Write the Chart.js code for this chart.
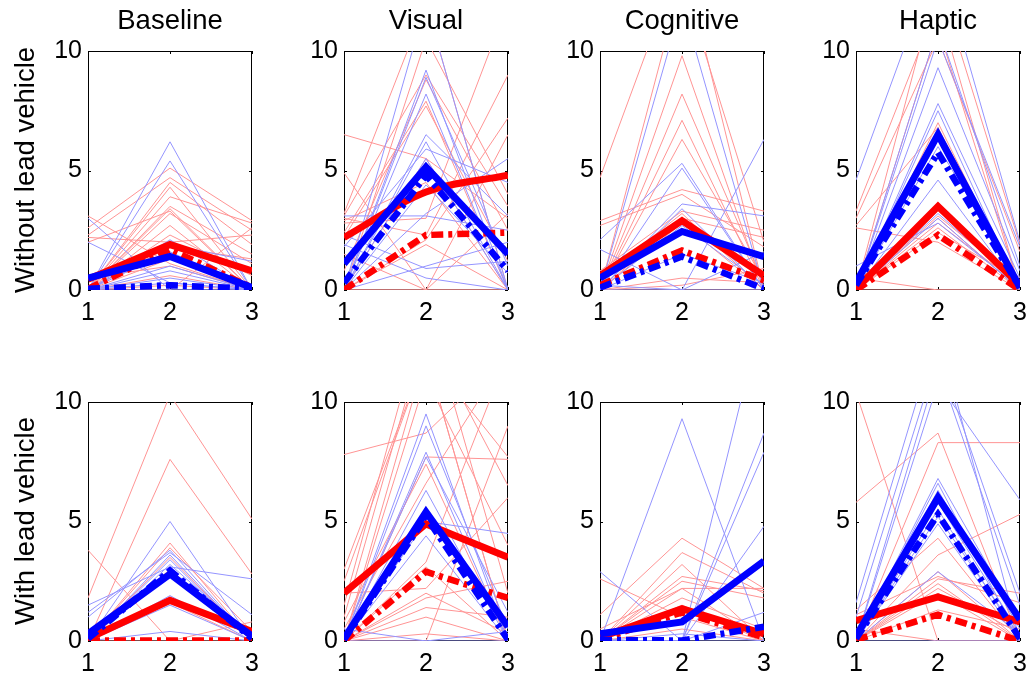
<!DOCTYPE html>
<html>
<head>
<meta charset="utf-8">
<script src="https://cdn.jsdelivr.net/npm/chart.js@4.4.1/dist/chart.umd.min.js"></script>
<style>
  html, body { margin: 0; padding: 0; background: #fff; }
  body { width: 1029px; height: 679px; position: relative; overflow: hidden; font-family: "Liberation Sans", Arial, sans-serif; }
  canvas { position: absolute; }
  .lbl { position: absolute; white-space: nowrap; font-size: 27.5px; line-height: 1; color: #000; }
</style>
</head>
<body>
<script>
// axes / labels
const xValues = [1, 2, 3];
const xTicks = [1, 2, 3];
const yTicks = [0, 5, 10];
const conditions = ['Baseline', 'Visual', 'Cognitive', 'Haptic'];
const rowLabels = ['Without lead vehicle', 'With lead vehicle'];

// ---- Without lead vehicle ----
const woBaselineRed = [
  [3.1, 1.1, 0.0], [2.6, 5.1, 2.9], [2.3, 4.7, 2.5], [2.2, 2.0, 2.3], [2.0, 3.3, 0.0],
  [0.0, 4.5, 1.9], [0.0, 4.3, 0.0], [0.0, 3.9, 2.8], [0.0, 3.5, 1.5], [0.0, 3.4, 0.0],
  [0.0, 3.2, 1.1], [0.0, 2.7, 0.0], [0.0, 2.3, 0.6], [0.0, 1.8, 1.3], [0.0, 1.3, 0.0],
  [0.5, 1.0, 0.0], [0.0, 0.6, 0.0], [0.0, 0.0, 2.6], [0.0, 0.2, 0.0]
];
const woBaselineBlue = [
  [0.0, 6.2, 0.0], [0.0, 5.4, 0.0], [3.0, 0.0, 0.0], [2.0, 0.3, 0.0], [0.0, 2.1, 0.0],
  [0.0, 1.9, 1.2], [0.0, 1.6, 0.0], [0.0, 1.0, 0.0], [0.0, 0.8, 0.0], [0.0, 0.5, 0.0],
  [0.0, 0.3, 0.0], [0.0, 0.0, 0.0]
];
const woBaselineRedSolid = [0.45, 1.9, 0.8];
const woBaselineRedDashDot = [0.05, 1.7, 0.1];
const woBaselineBlueSolid = [0.5, 1.4, 0.1];
const woBaselineBlueDashDot = [0.05, 0.2, 0.05];

const woVisualRed = [
  [6.5, 5.5, 3.0], [4.9, 0.0, 0.0], [3.2, 12.0, 0.0], [3.1, 9.0, 3.5], [3.0, 2.3, 9.0],
  [2.9, 4.5, 0.0], [2.8, 3.0, 12.0], [2.4, 7.9, 0.0], [2.2, 7.7, 1.2], [1.5, 0.0, 6.5],
  [0.8, 8.8, 2.5], [0.0, 10.5, 4.0], [0.0, 5.5, 0.0], [0.0, 2.1, 7.2], [0.0, 0.0, 3.2],
  [0.0, 0.0, 0.0], [0.0, 1.9, 0.0]
];
const woVisualBlue = [
  [0.0, 12.0, 0.0], [0.0, 9.2, 0.0], [0.0, 8.9, 1.0], [0.0, 8.2, 0.0], [0.0, 6.5, 3.1],
  [0.0, 6.2, 0.0], [1.8, 5.9, 4.5], [3.1, 3.1, 2.5], [2.3, 0.9, 1.2], [0.0, 1.0, 2.0],
  [1.9, 0.5, 0.0], [0.0, 3.2, 5.5], [0.0, 5.5, 0.0], [0.0, 4.4, 0.7]
];
const woVisualRedSolid = [2.2, 4.1, 4.8];
const woVisualRedDashDot = [0.0, 2.3, 2.4];
const woVisualBlueSolid = [1.1, 5.15, 1.5];
const woVisualBlueDashDot = [0.3, 4.8, 0.8];

const woCognitiveRed = [
  [4.7, 14.0, 0.0], [0.0, 9.8, 0.0], [0.0, 13.0, 2.0], [0.0, 8.2, 0.3], [0.0, 7.1, 0.0],
  [0.0, 6.3, 0.4], [2.9, 4.2, 3.3], [2.7, 4.0, 1.8], [0.8, 3.3, 2.5], [0.5, 3.2, 0.0],
  [0.0, 3.0, 2.2], [0.0, 2.8, 0.0], [0.0, 0.5, 0.3], [0.0, 0.0, 0.0], [0.0, 0.2, 0.9]
];
const woCognitiveBlue = [
  [0.0, 12.0, 0.0], [2.1, 5.3, 0.0], [1.7, 0.0, 6.3], [0.0, 5.1, 0.0], [0.0, 3.6, 3.1],
  [0.0, 3.4, 0.0], [0.0, 2.7, 0.2], [0.2, 0.0, 1.6], [0.0, 0.0, 0.0], [0.0, 1.5, 0.3]
];
const woCognitiveRedSolid = [0.6, 2.9, 0.6];
const woCognitiveRedDashDot = [0.2, 1.65, 0.4];
const woCognitiveBlueSolid = [0.5, 2.45, 1.4];
const woCognitiveBlueDashDot = [0.1, 1.4, 0.05];

const woHapticRed = [
  [3.3, 12.0, 0.0], [3.0, 10.5, 1.6], [0.0, 13.0, 1.9], [0.0, 11.0, 0.0], [2.7, 6.8, 0.0],
  [2.6, 2.0, 0.0], [0.0, 3.3, 0.5], [0.0, 3.1, 0.3], [0.0, 3.0, 0.0], [0.0, 2.8, 0.2],
  [0.0, 2.6, 0.0], [0.0, 2.4, 0.4], [0.5, 0.0, 0.0], [0.0, 0.0, 0.0], [0.0, 7.0, 0.0]
];
const woHapticBlue = [
  [4.6, 14.0, 2.0], [0.0, 11.0, 1.0], [0.0, 10.5, 1.8], [0.0, 9.3, 0.8], [0.0, 7.8, 0.5],
  [0.0, 7.5, 0.0], [0.0, 6.0, 0.3], [0.0, 4.6, 0.0], [0.0, 3.2, 0.2], [0.0, 3.0, 0.0],
  [1.0, 2.8, 0.1]
];
const woHapticRedSolid = [0.05, 3.5, 0.2];
const woHapticRedDashDot = [0.0, 2.3, 0.0];
const woHapticBlueSolid = [0.3, 6.5, 0.1];
const woHapticBlueDashDot = [0.2, 5.75, 0.1];

// ---- With lead vehicle ----
const wBaselineRed = [
  [1.8, 10.3, 5.1], [0.0, 7.6, 2.8], [3.8, 0.0, 0.0], [0.0, 4.1, 0.0], [0.0, 3.9, 0.4],
  [0.0, 3.5, 0.0], [0.0, 3.0, 0.0], [0.0, 1.6, 0.0], [0.0, 0.0, 0.8]
];
const wBaselineBlue = [
  [1.5, 3.1, 2.6], [1.2, 3.7, 1.1], [1.0, 3.8, 0.0], [0.0, 5.0, 0.0], [0.0, 3.6, 0.0],
  [0.0, 3.4, 0.0], [0.0, 1.9, 0.0], [0.0, 1.5, 0.0], [0.0, 0.4, 0.0], [0.0, 3.2, 0.2]
];
const wBaselineRedSolid = [0.1, 1.7, 0.4];
const wBaselineRedDashDot = [0.02, 0.02, 0.02];
const wBaselineBlueSolid = [0.3, 2.8, 0.2];
const wBaselineBlueDashDot = [0.1, 2.95, 0.1];

const wVisualRed = [
  [7.8, 8.7, 12.0], [3.0, 12.0, 0.0], [2.5, 12.0, 7.7], [1.5, 14.0, 2.0], [1.0, 13.0, 6.5],
  [0.8, 7.4, 0.0], [0.5, 6.6, 12.0], [0.0, 7.7, 7.6], [0.0, 3.3, 12.0], [0.0, 3.1, 0.0],
  [0.0, 2.0, 0.3], [0.0, 1.8, 2.5], [0.0, 1.0, 0.0], [0.0, 0.0, 9.0], [0.0, 12.0, 0.0],
  [0.0, 1.4, 1.0], [0.0, 0.3, 0.0], [2.0, 2.2, 6.0], [0.0, 11.0, 4.0]
];
const wVisualBlue = [
  [0.0, 9.5, 0.0], [0.0, 9.0, 0.5], [0.0, 7.9, 0.0], [0.0, 7.7, 1.2], [0.0, 6.3, 0.0],
  [0.0, 5.0, 4.5], [0.0, 4.4, 0.0], [0.5, 0.0, 0.4], [0.0, 0.0, 0.0]
];
const wVisualRedSolid = [2.0, 4.9, 3.5];
const wVisualRedDashDot = [0.0, 2.9, 1.8];
const wVisualBlueSolid = [0.1, 5.4, 0.6];
const wVisualBlueDashDot = [0.05, 5.2, 0.05];

const wCognitiveRed = [
  [2.6, 1.0, 0.0], [1.1, 4.3, 2.2], [0.0, 3.7, 2.0], [0.0, 3.2, 0.0], [0.0, 2.7, 2.1],
  [0.0, 2.5, 1.8], [0.0, 2.2, 0.0], [0.0, 1.8, 0.5], [0.0, 1.5, 0.0], [0.5, 2.2, 2.2],
  [0.0, 0.5, 0.0]
];
const wCognitiveBlue = [
  [0.0, 9.3, 0.0], [2.9, 0.0, 14.0], [0.0, 0.0, 8.7], [0.0, 0.0, 7.9], [0.0, 0.0, 4.8],
  [0.0, 0.0, 1.2], [0.0, 0.3, 0.0], [0.0, 0.0, 0.0]
];
const wCognitiveRedSolid = [0.15, 1.35, 0.3];
const wCognitiveRedDashDot = [0.05, 1.2, 0.15];
const wCognitiveBlueSolid = [0.3, 0.8, 3.35];
const wCognitiveBlueDashDot = [0.05, 0.02, 0.6];

const wHapticRed = [
  [10.4, 0.0, 0.0], [5.8, 8.7, 0.0], [0.0, 8.3, 8.3], [0.0, 3.6, 5.3], [1.3, 4.3, 0.0],
  [0.0, 2.9, 0.0], [0.0, 2.6, 2.0], [0.0, 2.4, 0.0], [0.0, 2.2, 0.3], [0.0, 2.0, 0.0],
  [0.0, 1.3, 0.5], [0.5, 0.0, 0.0], [1.1, 2.7, 1.6]
];
const wHapticBlue = [
  [1.6, 13.0, 0.0], [1.0, 12.0, 2.0], [0.0, 10.8, 5.9], [0.0, 11.5, 1.5], [0.0, 6.8, 0.8],
  [0.0, 6.6, 0.0], [0.0, 6.3, 0.5], [0.0, 5.8, 0.3], [0.0, 5.5, 0.0], [0.0, 5.2, 0.2],
  [0.0, 4.9, 0.0], [0.0, 2.9, 0.3], [0.0, 0.0, 0.0]
];
const wHapticRedSolid = [0.85, 1.85, 0.8];
const wHapticRedDashDot = [0.05, 1.1, 0.0];
const wHapticBlueSolid = [0.2, 6.0, 0.9];
const wHapticBlueDashDot = [0.1, 5.3, 0.1];

const panels = [
  { row: 0, col: 0, red: woBaselineRed, blue: woBaselineBlue, rs: woBaselineRedSolid, rd: woBaselineRedDashDot, bs: woBaselineBlueSolid, bd: woBaselineBlueDashDot },
  { row: 0, col: 1, red: woVisualRed, blue: woVisualBlue, rs: woVisualRedSolid, rd: woVisualRedDashDot, bs: woVisualBlueSolid, bd: woVisualBlueDashDot, curve: true },
  { row: 0, col: 2, red: woCognitiveRed, blue: woCognitiveBlue, rs: woCognitiveRedSolid, rd: woCognitiveRedDashDot, bs: woCognitiveBlueSolid, bd: woCognitiveBlueDashDot },
  { row: 0, col: 3, red: woHapticRed, blue: woHapticBlue, rs: woHapticRedSolid, rd: woHapticRedDashDot, bs: woHapticBlueSolid, bd: woHapticBlueDashDot },
  { row: 1, col: 0, red: wBaselineRed, blue: wBaselineBlue, rs: wBaselineRedSolid, rd: wBaselineRedDashDot, bs: wBaselineBlueSolid, bd: wBaselineBlueDashDot },
  { row: 1, col: 1, red: wVisualRed, blue: wVisualBlue, rs: wVisualRedSolid, rd: wVisualRedDashDot, bs: wVisualBlueSolid, bd: wVisualBlueDashDot },
  { row: 1, col: 2, red: wCognitiveRed, blue: wCognitiveBlue, rs: wCognitiveRedSolid, rd: wCognitiveRedDashDot, bs: wCognitiveBlueSolid, bd: wCognitiveBlueDashDot },
  { row: 1, col: 3, red: wHapticRed, blue: wHapticBlue, rs: wHapticRedSolid, rd: wHapticRedDashDot, bs: wHapticBlueSolid, bd: wHapticBlueDashDot }
];

// layout (pixels)
const plotLeft = [88, 344, 600, 856];
const plotTop = [50, 401];
const plotW = 164, plotH = 240;
const padL = 60, padT = 20, padR = 20, padB = 45;

const thinRed = '#ff9494';
const thinBlue = '#9494ff';
const dashDot = [12, 5, 4, 5];

function lineSet(ys, color, width, dash, tension) {
  return {
    data: xValues.map((x, i) => ({ x: x, y: ys[i] })),
    borderColor: color,
    borderWidth: width,
    borderDash: dash || [],
    borderCapStyle: 'butt',
    borderJoinStyle: 'miter',
    pointRadius: 0,
    pointHoverRadius: 0,
    fill: false,
    tension: tension || 0
  };
}

// box + inward ticks, drawn under the data like MATLAB does
const boxTicks = {
  id: 'boxTicks',
  beforeDatasetsDraw(chart) {
    const { ctx, chartArea: a, scales: { x, y } } = chart;
    ctx.save();
    ctx.strokeStyle = '#000';
    ctx.lineWidth = 1;
    ctx.strokeRect(a.left + 0.5, a.top + 0.5, a.width - 1, a.height - 1);
    ctx.beginPath();
    xTicks.forEach(v => {
      const px = Math.round(x.getPixelForValue(v)) + 0.5;
      ctx.moveTo(px, a.bottom); ctx.lineTo(px, a.bottom - 3);
      ctx.moveTo(px, a.top); ctx.lineTo(px, a.top + 3);
    });
    yTicks.forEach(v => {
      const py = Math.round(y.getPixelForValue(v)) + 0.5;
      ctx.moveTo(a.left, py); ctx.lineTo(a.left + 3, py);
      ctx.moveTo(a.right, py); ctx.lineTo(a.right - 3, py);
    });
    ctx.stroke();
    ctx.restore();
  }
};

const tickFont = { family: '"Liberation Sans", Arial, sans-serif', size: 25 };

panels.forEach(p => {
  const canvas = document.createElement('canvas');
  const w = plotW + padL + padR, h = plotH + padT + padB;
  canvas.width = w; canvas.height = h;
  canvas.style.width = w + 'px'; canvas.style.height = h + 'px';
  canvas.style.left = (plotLeft[p.col] - padL) + 'px';
  canvas.style.top = (plotTop[p.row] - padT) + 'px';
  document.body.appendChild(canvas);

  // bottom -> top drawing order, reversed for Chart.js (first dataset is on top)
  const sets = [];
  p.red.forEach(ys => sets.push(lineSet(ys, thinRed, 1)));
  p.blue.forEach(ys => sets.push(lineSet(ys, thinBlue, 1)));
  sets.push(lineSet(p.rs, '#ff0000', 7, null, p.curve ? 0.35 : 0));
  sets.push(lineSet(p.rd, '#ff0000', 6.5, dashDot));
  sets.push(lineSet(p.bs, '#0000ff', 7));
  sets.push(lineSet(p.bd, '#0000ff', 6.5, dashDot));
  sets.reverse();

  new Chart(canvas.getContext('2d'), {
    type: 'line',
    data: { datasets: sets },
    options: {
      responsive: false,
      animation: false,
      devicePixelRatio: 1,
      events: [],
      layout: { padding: { left: 0, top: padT, right: padR, bottom: 0 } },
      plugins: { legend: { display: false }, tooltip: { enabled: false } },
      scales: {
        x: {
          type: 'linear', min: 1, max: 3,
          afterBuildTicks: s => { s.ticks = xTicks.map(v => ({ value: v })); },
          afterFit: s => { s.height = padB; },
          grid: { display: false, drawTicks: false },
          border: { display: false },
          ticks: { font: tickFont, color: '#000', padding: 8, maxRotation: 0, autoSkip: false }
        },
        y: {
          type: 'linear', min: 0, max: 10,
          afterBuildTicks: s => { s.ticks = yTicks.map(v => ({ value: v })); },
          afterFit: s => { s.width = padL; },
          grid: { display: false, drawTicks: false },
          border: { display: false },
          ticks: { font: tickFont, color: '#000', padding: 6 }
        }
      }
    },
    plugins: [boxTicks]
  });
});

// titles and row labels
conditions.forEach((name, c) => {
  const d = document.createElement('div');
  d.className = 'lbl';
  d.textContent = name;
  d.style.left = (plotLeft[c] + plotW / 2) + 'px';
  d.style.top = '20px';
  d.style.transform = 'translate(-50%, -50%)';
  document.body.appendChild(d);
});
rowLabels.forEach((name, r) => {
  const d = document.createElement('div');
  d.className = 'lbl';
  d.textContent = name;
  d.style.left = '25px';
  d.style.top = (plotTop[r] + plotH / 2) + 'px';
  d.style.transform = 'translate(-50%, -50%) rotate(-90deg)';
  document.body.appendChild(d);
});
</script>
</body>
</html>
